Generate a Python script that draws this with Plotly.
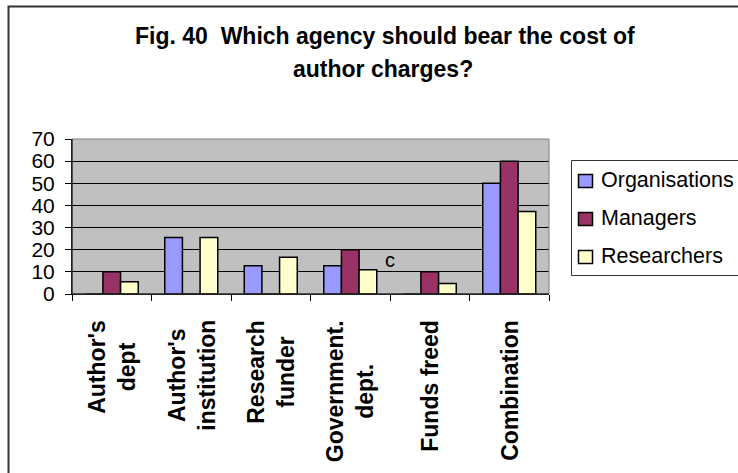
import plotly.graph_objects as go

# Survey responses (percent) by who should pay author charges
categories = ["Author's dept", "Author's institution", "Research funder",
              "Government. dept.", "Funds freed", "Combination"]
tick_labels = ["Author's<br>dept", "Author's<br>institution", "Research<br>funder",
               "Government.<br>dept.", "Funds freed", "Combination"]
organisations = [0, 25.5, 12.8, 12.8, 0, 50]
managers = [10, 0, 0, 20, 10, 60]
researchers = [5.5, 25.5, 16.6, 10.9, 4.7, 37.3]

series_names = ["Organisations", "Managers", "Researchers"]
series_colors = ["#9999FF", "#993366", "#FFFFCC"]

W, H = 738, 473
ML, MR, MT, MB = 72, 189, 139, 179
PW, PH = W - ML - MR, H - MT - MB
FONT = "Arial, Liberation Sans, sans-serif"


def px_x(px):
    return (px - ML) / PW


def px_y(py):
    return (H - MB - py) / PH


fig = go.Figure()
for i, (name, vals) in enumerate(zip(series_names, [organisations, managers, researchers])):
    fig.add_trace(go.Bar(
        x=categories, y=vals, name=name, showlegend=False,
        marker=dict(color=series_colors[i], line=dict(color="black", width=1.5)),
    ))

annotations = []
# Two-line chart title
annotations.append(dict(text="Fig. 40  Which agency should bear the cost of",
                        xref="paper", yref="paper", x=px_x(385), y=px_y(36),
                        xanchor="center", yanchor="middle", showarrow=False,
                        font=dict(family=FONT, size=23, color="black", weight="bold")))
annotations.append(dict(text="author charges?",
                        xref="paper", yref="paper", x=px_x(383), y=px_y(69),
                        xanchor="center", yanchor="middle", showarrow=False,
                        font=dict(family=FONT, size=23, color="black", weight="bold")))
# Rotated category labels under the axis
for cat, lab in zip(categories, tick_labels):
    annotations.append(dict(text=lab, xref="x", yref="paper", x=cat, y=0,
                            yanchor="top", yshift=-24, textangle=-90, align="center",
                            showarrow=False,
                            font=dict(family=FONT, size=23, color="black", weight="bold")))
# Stray note inside the plot
annotations.append(dict(text="c", xref="x", yref="y", x=3.5, y=15.5, showarrow=False,
                        font=dict(family=FONT, size=20, color="black")))

shapes = [
    # plot-area frame
    dict(type="rect", xref="paper", yref="paper", x0=0, x1=1, y0=0, y1=1,
         line=dict(color="#808080", width=1), layer="above"),
    # outer chart border
    dict(type="rect", xref="paper", yref="paper", x0=px_x(8.5), x1=px_x(800),
         y0=px_y(520), y1=px_y(6.5), line=dict(color="#333333", width=2)),
    # black axes over the frame on left and bottom
    dict(type="line", xref="paper", yref="paper", x0=0, x1=0, y0=0, y1=1,
         line=dict(color="black", width=1), layer="above"),
    dict(type="line", xref="paper", yref="paper", x0=0, x1=1, y0=0, y1=0,
         line=dict(color="black", width=1), layer="above"),
    # legend box
    dict(type="rect", xref="paper", yref="paper", x0=px_x(571.5), x1=px_x(800),
         y0=px_y(275.5), y1=px_y(160.5), line=dict(color="#333333", width=1),
         fillcolor="white"),
]

# Legend entries: swatch + label
legend_rows = [181, 219, 257]
for name, color, cy in zip(series_names, series_colors, legend_rows):
    shapes.append(dict(type="rect", xref="paper", yref="paper",
                       x0=px_x(578.5), x1=px_x(592.5), y0=px_y(cy + 6.5), y1=px_y(cy - 6.5),
                       line=dict(color="black", width=1.5), fillcolor=color))
    annotations.append(dict(text=name, xref="paper", yref="paper", x=px_x(599), y=px_y(cy - 1),
                            xanchor="left", yanchor="middle", showarrow=False,
                            font=dict(family=FONT, size=21.5, color="black")))

fig.update_layout(
    width=W, height=H,
    margin=dict(l=ML, r=MR, t=MT, b=MB, pad=0),
    paper_bgcolor="white", plot_bgcolor="#C0C0C0",
    barmode="group", bargap=1.5 / 4.5, bargroupgap=0,
    font=dict(family=FONT, color="black"),
    showlegend=False,
    xaxis=dict(type="category", showticklabels=False, showgrid=False,
               showline=True, linecolor="black", linewidth=1,
               ticks="outside", tickson="boundaries", ticklen=6, tickcolor="black"),
    yaxis=dict(range=[0, 70], dtick=10, showgrid=True, gridcolor="black", gridwidth=1,
               zeroline=False, showline=True, linecolor="black", linewidth=1,
               ticks="outside", ticklen=6, tickcolor="black", ticklabelstandoff=6,
               tickfont=dict(family=FONT, size=21, color="black")),
    annotations=annotations, shapes=shapes,
)

fig.write_html("out.html")
